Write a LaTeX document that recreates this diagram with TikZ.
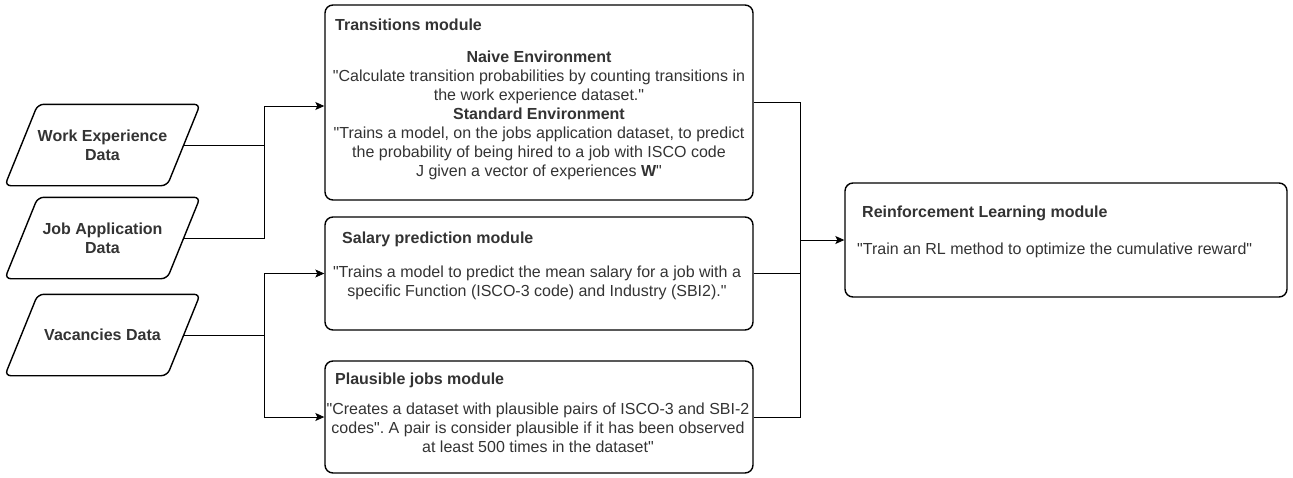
\documentclass[tikz,border=0pt]{standalone}
\usepackage{fontspec}
\setmainfont{Liberation Sans}[Ligatures=TeXOff]
\frenchspacing
\usetikzlibrary{positioning,arrows.meta}
\definecolor{txtgray}{HTML}{333333}

\tikzset{
  module/.style={draw, line width=1.4pt, rounded corners=8pt, inner sep=0pt},
  datain/.style={inner sep=0pt, minimum width=162pt, minimum height=81pt, align=center, font=\fontsize{16}{19}\selectfont\bfseries},
  title/.style={anchor=west, inner sep=0pt, font=\fontsize{16}{19}\selectfont\bfseries},
  body/.style={inner sep=0pt, align=center},
  link/.style={line width=0.8pt},
  flow/.style={link, -{Stealth[length=9pt,width=8pt,inset=2pt]}},
}

\begin{document}
\begin{tikzpicture}[x=1pt, y=-1pt, font=\fontsize{16}{19}\selectfont, text=txtgray]
  \useasboundingbox (0,0) rectangle (1293,477);
  \node[datain] (we) at (102.5,145) {Work Experience\\Data};
  \node[datain] (ja) at (102.5,238) {Job Application\\Data};
  \node[datain] (vac) at (102.5,335) {Vacancies Data};
  \foreach \n in {we,ja,vac}
    \draw[line width=1.4pt, rounded corners=6pt] ([xshift=-16.5pt]\n.south west) -- ([xshift=-16.5pt]\n.south east)
      -- ([xshift=16.5pt]\n.north east) -- ([xshift=16.5pt]\n.north west) -- cycle;
  \node[module, minimum width=428pt, minimum height=195pt] (trans) at (539,102.5) {};
  \node[module, minimum width=428pt, minimum height=113pt] (sal) at (539,273.5) {};
  \node[module, minimum width=428pt, minimum height=112pt] (plaus) at (539,417) {};
  \node[module, minimum width=442pt, minimum height=114pt] (rl) at (1066,240) {};
  \node[title] (transtitle) at (335,25) {Transitions module};
  \node[body] (transtxt) at (539,115.5) {\textbf{Naive Environment}\\"Calculate transition probabilities by counting transitions in\\the work experience dataset."\\\textbf{Standard Environment}\\"Trains a model, on the jobs application dataset, to predict\\the probability of being hired to a job with ISCO code\\J given a vector of experiences \textbf{W}"};
  \node[title] (saltitle) at (342,239) {Salary prediction module};
  \node[body] (saltxt) at (537,283) {"Trains a model to predict the mean salary for a job with a\\specific Function (ISCO-3 code) and Industry (SBI2)."};
  \node[title] (plaustitle) at (335,380) {Plausible jobs module};
  \node[body] (plaustxt) at (538,428) {"Creates a dataset with plausible pairs of ISCO-3 and SBI-2\\codes". A pair is consider plausible if it has been observed\\at least 500 times in the dataset"};
  \node[title] (rltitle) at (862,213) {Reinforcement Learning module};
  \node[body, anchor=west] (rltxt) at (857,250) {"Train an RL method to optimize the cumulative reward"};
  \coordinate (jin) at (264,106);
  \coordinate (jvac) at (264,335);
  \coordinate (jout) at (800,240);
  \draw[link] (we.east) -| (jin);
  \draw[link] (ja.east) -| (jin);
  \draw[flow] (jin) -- (jin -| trans.west);
  \draw[link] (vac.east) -- (jvac);
  \draw[flow] (jvac) |- (sal.west);
  \draw[flow] (jvac) |- (plaus.west);
  \draw[link] (trans.east) -| (jout);
  \draw[link] (sal.east) -| (jout);
  \draw[link] (plaus.east) -| (jout);
  \draw[flow] (jout) -- (rl.west);
\end{tikzpicture}
\end{document}
